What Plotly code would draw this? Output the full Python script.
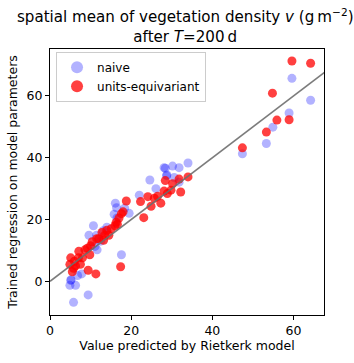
import plotly.graph_objects as go

# Rietkerk-model predictions (x) vs. trained-regression predictions (y)
naive_x = [4.9, 5.1, 5.2, 5.8, 6.3, 6.8, 9.4, 7.8, 11.1, 9.6, 11.6, 11.5, 10.7, 13.1,
           15.8, 16.1, 18.4, 17.6, 12.5, 14.0, 16.4, 19.5, 16.5,
           22.0, 24.6, 26.1, 28.1, 28.4, 30.2, 31.8, 34.0, 28.7, 30.6, 31.8, 28.8,
           47.4, 53.3, 54.9, 58.9, 59.6, 64.2]
naive_y = [-1.3, 0.3, 0.5, -6.8, -1.3, 1.9, -4.4, 2.4, 11.3, 14.9, 10.2, 14.9, 18.0, 16.4,
           21.7, 25.3, 23.7, 8.6, 13.0, 17.5, 23.8, 22.0, 20.5,
           27.9, 32.8, 30.0, 36.8, 36.6, 37.3, 36.8, 38.3, 34.2, 33.6, 32.1, 34.4,
           41.3, 44.6, 49.9, 54.5, 65.7, 58.6]

equiv_x = [4.9, 5.1, 5.5, 6.3, 7.1, 8.0, 9.4, 11.3, 9.2, 10.4, 12.0, 13.2, 14.5, 17.4,
           8.6, 7.0, 9.8, 11.5, 13.5, 15.1, 16.3, 17.6, 18.8, 6.0, 5.8, 7.5, 10.0,
           12.8, 14.0, 16.0, 17.0, 18.0, 16.6,
           22.3, 23.1, 24.1, 25.7, 24.9, 27.3, 28.1, 29.8, 28.4, 30.2, 31.8, 32.2,
           34.0, 28.9, 26.5,
           47.4, 53.3, 54.8, 55.9, 58.9, 59.6, 64.2]
equiv_y = [5.5, 7.6, 3.1, 5.0, 9.7, 7.6, 3.6, 2.4, 10.7, 12.8, 13.8, 13.3, 14.9, 4.7,
           10.2, 7.6, 8.6, 13.8, 14.9, 17.0, 19.1, 21.9, 26.0, 6.5, 4.2, 5.5, 11.5,
           15.8, 16.5, 18.0, 20.5, 22.5, 18.5,
           25.8, 20.6, 27.4, 26.9, 24.3, 25.3, 29.2, 29.5, 32.6, 31.6, 33.1, 28.9,
           33.8, 28.4, 27.5,
           43.2, 48.3, 60.9, 52.2, 52.3, 71.3, 70.6]

ident = [0, 80]
x_ticks = [0, 20, 40, 60]
y_ticks = [0, 20, 40, 60]

title_text = ("spatial mean of vegetation density <i>v</i> (g\u2009m<sup>\u22122</sup>)"
              "<br>after <i>T</i>=200\u2009d")

fig = go.Figure()
fig.add_trace(go.Scatter(x=naive_x, y=naive_y, mode="markers", name="naive",
                         marker=dict(size=9, color="rgba(0,0,255,0.3)", line=dict(width=0))))
fig.add_trace(go.Scatter(x=equiv_x, y=equiv_y, mode="markers", name="units-equivariant",
                         marker=dict(size=9, color="rgba(255,0,0,0.75)", line=dict(width=0))))
fig.add_trace(go.Scatter(x=ident, y=ident, mode="lines", showlegend=False,
                         line=dict(color="rgba(110,110,110,0.9)", width=1.6), hoverinfo="skip"))

axis_common = dict(showline=True, linecolor="black", linewidth=1, mirror=True,
                   ticks="outside", ticklen=4, tickwidth=1, tickcolor="black",
                   showgrid=False, zeroline=False,
                   tickfont=dict(size=12.5, color="black"))

# plot area: 48..324 px horizontally, 49..324 px vertically
plot_w = 276.0
plot_h = 275.0
def paper_x(px):
    return (px - 48.0) / plot_w
def paper_y(px):
    return (324.0 - px) / plot_h

fig.add_annotation(text=title_text, xref="paper", yref="paper",
                   x=paper_x(184.0), y=paper_y(25.0),
                   xanchor="center", yanchor="middle", align="center", showarrow=False,
                   font=dict(size=15.1, color="black"))

fig.update_layout(
    width=354, height=363,
    margin=dict(l=48, r=30, t=49, b=39),
    paper_bgcolor="white", plot_bgcolor="white",
    font=dict(family="DejaVu Sans", color="black"),
    xaxis=dict(range=[0, 67.5], tickvals=x_ticks,
               title=dict(text="Value predicted by Rietkerk model", font=dict(size=12.5), standoff=4),
               **axis_common),
    yaxis=dict(range=[-10.9, 75.2], tickvals=y_ticks,
               title=dict(text="Trained regression on model parameters", font=dict(size=12.5), standoff=6),
               **axis_common),
    legend=dict(x=0.022, y=0.99, xanchor="left", yanchor="top",
                bgcolor="rgba(255,255,255,0.8)", bordercolor="#cccccc", borderwidth=1,
                font=dict(size=12, color="black"), itemsizing="constant",
                tracegroupgap=0),
    showlegend=True,
)

fig.write_html("out.html")
